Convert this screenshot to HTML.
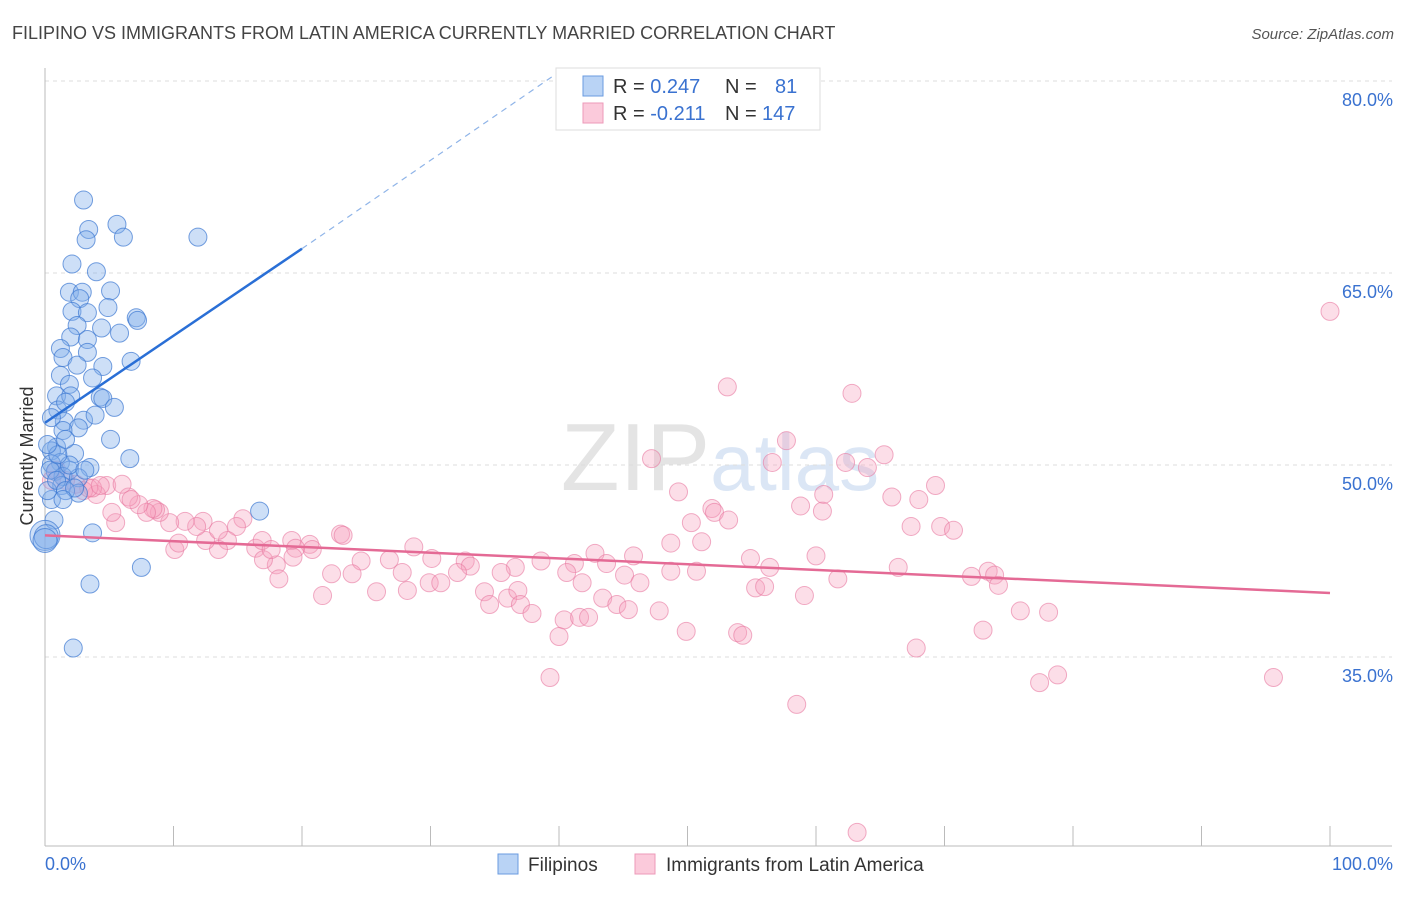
<!DOCTYPE html>
<html><head><meta charset="utf-8"><style>
body{margin:0;background:#fff;font-family:"Liberation Sans",sans-serif;}
svg text{font-family:"Liberation Sans",sans-serif;}
</style></head><body>
<svg id="chart" width="1406" height="892" viewBox="0 0 1406 892" xmlns="http://www.w3.org/2000/svg">
<text x="12" y="39" font-size="18" fill="#444">FILIPINO VS IMMIGRANTS FROM LATIN AMERICA CURRENTLY MARRIED CORRELATION CHART</text>
<text x="1394" y="39" font-size="15" fill="#555" text-anchor="end" font-style="italic">Source: ZipAtlas.com</text>
<text x="720" y="490" font-size="96" fill="#e4e4e4" text-anchor="middle" font-family="Liberation Serif">ZIP<tspan fill="#dbe6f5" font-family="Liberation Sans" font-size="80">atlas</tspan></text>
<g id="grid"></g>
<g id="yticks"></g>
<g id="xaxis"></g>
<text transform="translate(33,456) rotate(-90)" font-size="18" fill="#333" text-anchor="middle">Currently Married</text>
<g id="pinkpts"></g>
<g id="bluepts"></g>
<g id="trends"></g>
<g>
<rect x="556" y="68" width="264" height="62" fill="#fff" stroke="#ddd"/>
<rect x="583" y="76" width="20" height="20" fill="#b9d3f5" stroke="#6a9be0"/>
<rect x="583" y="103" width="20" height="20" fill="#fbcadb" stroke="#ec9ab8"/>
<text x="613" y="93" font-size="20" fill="#333">R = <tspan fill="#3a72d0">0.247</tspan><tspan x="725">N = </tspan><tspan x="775" fill="#3a72d0">81</tspan></text>
<text x="613" y="120" font-size="20" fill="#333">R = <tspan fill="#3a72d0">-0.211</tspan><tspan x="725">N = </tspan><tspan x="762" fill="#3a72d0">147</tspan></text>
</g>
<g>
<rect x="498" y="854" width="20" height="20" fill="#b9d3f5" stroke="#6a9be0"/>
<text x="528" y="871" font-size="19" fill="#333">Filipinos</text>
<rect x="635" y="854" width="20" height="20" fill="#fbcadb" stroke="#ec9ab8"/>
<text x="666" y="871" font-size="19" fill="#333">Immigrants from Latin America</text>
</g>
</svg>
<script>
const yTicks=[35,50,65,80];
const xTickLabels=["0.0%","100.0%"];
const blueX=[3.0,3.4,3.2,5.6,6.1,11.9,2.1,4.0,1.9,2.9,2.7,5.1,2.1,3.3,4.9,7.1,7.2,2.5,4.4,5.8,2.0,3.3,1.2,3.3,6.7,1.4,2.5,4.5,1.2,3.7,1.9,0.9,2.0,4.3,4.5,1.0,1.6,5.4,1.5,3.0,0.5,2.6,1.4,5.1,0.9,0.5,2.3,6.6,1.2,0.5,3.5,1.9,0.8,1.4,2.6,1.3,2.6,16.7,0.5,0.7,0.0,0.1,3.7,7.5,3.5,2.2,0.4,0.2,0.9,1.9,1.6,1.0,0.2,2.3,3.1,1.4,1.6,3.9,0.0];
const blueY=[70.7,68.4,67.6,68.8,67.8,67.8,65.7,65.1,63.5,63.5,63.0,63.6,62.0,61.9,62.3,61.5,61.3,60.9,60.7,60.3,60.0,59.8,59.1,58.8,58.1,58.4,57.8,57.7,57.0,56.8,56.3,55.4,55.4,55.3,55.2,54.3,54.9,54.5,53.4,53.5,53.7,52.9,52.7,52.0,51.4,51.1,50.9,50.5,50.2,50.1,49.8,49.6,49.5,49.1,49.0,48.4,47.8,46.4,47.3,45.7,44.5,44.4,44.7,42.0,40.7,35.7,49.6,48.0,48.8,50.0,48.0,50.8,51.6,48.2,49.6,47.3,52.0,53.9,44.1];
const blueR=[9,9,9,9,9,9,9,9,9,9,9,9,9,9,9,9,9,9,9,9,9,9,9,9,9,9,9,9,9,9,9,9,9,9,9,9,9,9,9,9,9,9,9,9,9,9,9,9,9,9,9,9,9,9,9,9,9,9,9,9,15,12,9,9,9,9,9,9,9,9,9,9,9,9,9,9,9,9,12];
const pinkX=[100,53.1,62.8,57.7,65.3,47.2,56.6,62.3,64.0,49.3,60.6,69.3,65.9,68.0,51.9,58.8,52.1,60.5,50.3,53.2,67.4,69.7,70.7,48.7,51.1,54.9,60.0,45.8,42.8,38.6,41.2,43.7,36.6,32.7,30.1,28.7,24.6,22.3,23.9,26.8,27.8,29.9,30.8,33.1,32.1,35.5,28.2,25.8,34.2,34.6,36.0,36.8,37.0,37.9,40.6,41.8,43.4,45.1,46.3,48.7,50.7,44.5,45.4,47.8,40.4,41.6,42.3,40.0,49.9,53.9,54.3,55.3,56.0,56.4,59.1,61.7,66.4,72.1,73.4,73.9,74.2,75.9,78.1,73.0,67.8,77.4,78.8,95.6,39.3,58.5,63.2,21.6,19.2,18.0,18.2,16.4,15.4,14.9,14.2,13.5,12.5,13.5,12.3,11.8,10.9,10.1,10.4,9.7,8.9,8.6,8.4,7.9,7.3,6.5,6.7,5.5,5.2,4.8,4.0,3.7,3.0,2.4,1.6,0.9,0.5,3.4,4.3,6.0,16.9,17.0,20.6,20.8,23.0,23.2,19.5,17.6,19.3];
const pinkY=[62.0,56.1,55.6,51.9,50.8,50.5,50.2,50.2,49.8,47.9,47.7,48.4,47.5,47.3,46.6,46.8,46.3,46.4,45.5,45.7,45.2,45.2,44.9,43.9,44.0,42.7,42.9,42.9,43.1,42.5,42.3,42.3,42.0,42.5,42.7,43.6,42.5,41.5,41.5,42.6,41.6,40.8,40.8,42.1,41.6,41.6,40.2,40.1,40.1,39.1,39.6,40.2,39.1,38.4,41.6,40.8,39.6,41.4,40.8,41.7,41.7,39.1,38.7,38.6,37.9,38.1,38.1,36.6,37.0,36.9,36.7,40.4,40.5,42.0,39.8,41.1,42.0,41.3,41.7,41.4,40.6,38.6,38.5,37.1,35.7,33.0,33.6,33.4,33.4,31.3,21.3,39.8,44.1,42.2,41.1,43.5,45.8,45.2,44.1,43.4,44.1,44.9,45.6,45.2,45.6,43.4,43.9,45.5,46.3,46.5,46.6,46.3,46.9,47.5,47.3,45.5,46.3,48.4,47.7,48.2,48.0,48.5,48.8,49.6,48.8,48.2,48.4,48.5,44.1,42.6,43.8,43.4,44.6,44.5,43.5,43.4,42.8];
const blueTrend=[[0,53.3],[20,66.9]];
const blueDash=[[20,66.9],[39.7,80.5]];
const pinkTrend=[[0,44.5],[100,40.0]];

const X0=45,X1=1330,Y50=465,PPU=12.8;
function sx(v){return X0+(X1-X0)*v/100;}
function sy(v){return Y50-(v-50)*PPU;}
const NS="http://www.w3.org/2000/svg";
function mk(tag,attrs,parent){const e=document.createElementNS(NS,tag);for(const k in attrs)e.setAttribute(k,attrs[k]);parent.appendChild(e);return e;}
const grid=document.getElementById('grid'),yt=document.getElementById('yticks'),xa=document.getElementById('xaxis');
yTicks.forEach(t=>{
  const l=mk('line',{x1:45,x2:1392,y1:sy(t),y2:sy(t),stroke:'#ddd','stroke-dasharray':'4,4'},grid);
  
  
  const tx=mk('text',{x:1393,y:sy(t)+25,'font-size':18,fill:'#3a72d0','text-anchor':'end'},yt);
  tx.textContent=t.toFixed(1)+'%';
  
  
});
const ax=mk('line',{x1:45,x2:45,y1:68,y2:846,stroke:'#bbb'},xa);


const bx=mk('line',{x1:45,x2:1392,y1:846,y2:846,stroke:'#bbb'},xa);


for(let i=0;i<=10;i++){
  const t=mk('line',{x1:sx(i*10),x2:sx(i*10),y1:826,y2:846,stroke:'#bbb'},xa);
  
  
}
[[0,'start',45],[100,'end',1393]].forEach((d,i)=>{
  const t=mk('text',{x:d[2],y:870,'font-size':18,fill:'#3a72d0','text-anchor':d[1]},xa);
  t.textContent=xTickLabels[i];
  
  
});
const pp=document.getElementById('pinkpts');
pinkX.forEach((v,i)=>{
  const c=mk('circle',{cx:sx(v),cy:sy(pinkY[i]),r:9,fill:'rgba(246,160,190,0.35)',stroke:'rgba(232,120,160,0.6)','stroke-width':1},pp);
  
  
});
const bp=document.getElementById('bluepts');
blueX.forEach((v,i)=>{
  const c=mk('circle',{cx:sx(v),cy:sy(blueY[i]),r:blueR[i],fill:'rgba(130,175,235,0.4)',stroke:'rgba(60,120,210,0.7)','stroke-width':1},bp);
  
  
});
const tr=document.getElementById('trends');
const l1=mk('line',{x1:sx(blueTrend[0][0]),y1:sy(blueTrend[0][1]),x2:sx(blueTrend[1][0]),y2:sy(blueTrend[1][1]),stroke:'#2a6fd6','stroke-width':2.5},tr);


const l2=mk('line',{x1:sx(blueDash[0][0]),y1:sy(blueDash[0][1]),x2:sx(blueDash[1][0]),y2:sy(blueDash[1][1]),stroke:'#8fb4e8','stroke-width':1.2,'stroke-dasharray':'6,5'},tr);


const l3=mk('line',{x1:sx(pinkTrend[0][0]),y1:sy(pinkTrend[0][1]),x2:sx(pinkTrend[1][0]),y2:sy(pinkTrend[1][1]),stroke:'#e46a95','stroke-width':2.5},tr);


</script>
</body></html>
